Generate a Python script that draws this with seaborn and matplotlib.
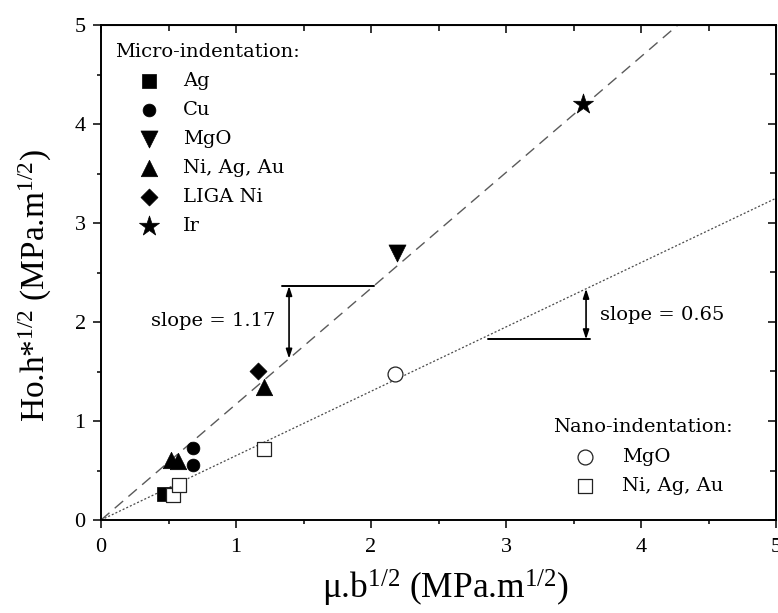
import matplotlib
matplotlib.use("Agg")
import matplotlib.pyplot as plt
import numpy as np
import pandas as pd
import seaborn as sns

# ---- data -------------------------------------------------------------
# micro-indentation (filled symbols)
ag_x, ag_y = [0.47], [0.26]
cu_x, cu_y = [0.68, 0.68], [0.73, 0.56]
mgo_x, mgo_y = [2.19], [2.70]
niagau_x, niagau_y = [0.52, 0.57, 1.21], [0.61, 0.60, 1.34]
liga_x, liga_y = [1.16], [1.51]
ir_x, ir_y = [3.57], [4.20]

# nano-indentation (open symbols)
nano_mgo_x, nano_mgo_y = [2.18], [1.475]
nano_ni_x, nano_ni_y = [0.535, 0.58, 1.21], [0.25, 0.355, 0.72]

# fitted slopes
slope_micro = 1.17
slope_nano = 0.65

x_ticks = [0, 1, 2, 3, 4, 5]
y_ticks = [0, 1, 2, 3, 4, 5]

# ---- style ------------------------------------------------------------
sns.set_style("ticks")
plt.rcParams["font.family"] = ["Liberation Serif", "DejaVu Serif"]
plt.rcParams["mathtext.fontset"] = "custom"
plt.rcParams["mathtext.rm"] = "Liberation Serif"
plt.rcParams["mathtext.it"] = "Liberation Serif:italic"
for key in ("text.color", "axes.labelcolor", "xtick.color", "ytick.color"):
    plt.rcParams[key] = "black"

note_font = "DejaVu Serif"
note_size = 14

fig = plt.figure(figsize=(7.78, 6.13), dpi=100)
ax = fig.add_axes([101 / 778, 1 - 520 / 613, 675 / 778, 495 / 613])

# ---- fit lines ----------------------------------------------------------
xline = np.array([0.0, 5.0])
fit_df = pd.DataFrame({"x": xline, "micro": slope_micro * xline, "nano": slope_nano * xline})
sns.lineplot(data=fit_df, x="x", y="micro", ax=ax, color="#5a5a5a", lw=1.0,
             zorder=1).lines[-1].set_dashes((8, 5))
sns.lineplot(data=fit_df, x="x", y="nano", ax=ax, color="#4a4a4a", lw=0.9,
             zorder=1).lines[-1].set_dashes((1.6, 1.6))

# ---- markers ------------------------------------------------------------
filled = dict(color="black", edgecolor="black", linewidth=0.5, zorder=3)
hollow = dict(color="white", edgecolor="#222222", linewidth=0.9, zorder=4)

sns.scatterplot(x=ag_x, y=ag_y, marker="s", s=110, label="Ag", ax=ax, **filled)
sns.scatterplot(x=cu_x, y=cu_y, marker="o", s=85, label="Cu", ax=ax, **filled)
sns.scatterplot(x=mgo_x, y=mgo_y, marker="v", s=150, label="MgO", ax=ax, **filled)
sns.scatterplot(x=niagau_x, y=niagau_y, marker="^", s=140, label="Ni, Ag, Au", ax=ax, **filled)
sns.scatterplot(x=liga_x, y=liga_y, marker="D", s=75, label="LIGA Ni", ax=ax, **filled)
sns.scatterplot(x=ir_x, y=ir_y, marker="*", s=230, label="Ir", ax=ax, **filled)
sns.scatterplot(x=nano_mgo_x, y=nano_mgo_y, marker="o", s=115, label="MgO ", ax=ax, **hollow)
sns.scatterplot(x=nano_ni_x, y=nano_ni_y, marker="s", s=100, label="Ni, Ag, Au ", ax=ax, **hollow)

# ---- slope annotations ------------------------------------------------------
arrow_style = dict(arrowstyle="<|-|>,head_length=0.55,head_width=0.18",
                   color="black", lw=1.2, shrinkA=0, shrinkB=0)

bar1_x = (1.34, 2.02)
arrow1_x = 1.393
bar1_y = slope_micro * bar1_x[1]
ax.plot(bar1_x, [bar1_y, bar1_y], color="black", lw=1.4, zorder=2)
ax.annotate("", xy=(arrow1_x, slope_micro * arrow1_x), xytext=(arrow1_x, bar1_y),
            arrowprops=arrow_style)
ax.text(1.29, 2.01, f"slope = {slope_micro:.2f}", ha="right", va="center",
        fontsize=note_size, family=note_font)

bar2_x = (2.87, 3.62)
arrow2_x = 3.593
bar2_y = 1.825
ax.plot(bar2_x, [bar2_y, bar2_y], color="black", lw=1.4, zorder=2)
ax.annotate("", xy=(arrow2_x, slope_nano * arrow2_x), xytext=(arrow2_x, bar2_y),
            arrowprops=arrow_style)
ax.text(3.70, 2.07, f"slope = {slope_nano:.2f}", ha="left", va="center",
        fontsize=note_size, family=note_font)

# ---- axes ---------------------------------------------------------------
ax.set_xlim(0, 5)
ax.set_ylim(0, 5)
ax.set_xticks(x_ticks)
ax.set_yticks(y_ticks)
ax.set_xticks(np.arange(0.5, 5, 1.0), minor=True)
ax.set_yticks(np.arange(0.5, 5, 1.0), minor=True)
ax.tick_params(which="major", direction="out", length=6, width=1.1, labelsize=16, color="black")
ax.tick_params(which="minor", direction="out", length=3, width=1.1, color="black")
ax.tick_params(axis="x", which="major", pad=7)
ax.tick_params(axis="y", which="major", pad=5)
for sp in ax.spines.values():
    sp.set_visible(True)
    sp.set_linewidth(1.4)
    sp.set_color("black")

top = ax.secondary_xaxis("top")
top.set_xticks(x_ticks)
top.set_xticks(np.arange(0.5, 5, 1.0), minor=True)
top.tick_params(which="major", direction="in", length=6, width=1.1, labeltop=False)
top.tick_params(which="minor", direction="in", length=4, width=1.1)
right = ax.secondary_yaxis("right")
right.set_yticks(y_ticks)
right.set_yticks(np.arange(0.5, 5, 1.0), minor=True)
right.tick_params(which="major", direction="in", length=6, width=1.1, labelright=False)
right.tick_params(which="minor", direction="in", length=4, width=1.1)

ax.set_xlabel(r"μ.b$^{1/2}$ (MPa.m$^{1/2}$)", fontsize=25.5)
ax.set_ylabel(r"Ho.h*$^{1/2}$ (MPa.m$^{1/2}$)", fontsize=24)
ax.xaxis.set_label_coords(0.51, -(568 - 520) / 495)
ax.yaxis.set_label_coords(-(101 - 54) / 675, (520 - 286) / 495)

# ---- legends --------------------------------------------------------------
handles, labels = ax.get_legend_handles_labels()
micro_h, micro_l = handles[:6], labels[:6]
nano_h, nano_l = handles[6:], [l.strip() for l in labels[6:]]

legend_font = dict(family=note_font, size=note_size)
leg1 = ax.legend(micro_h, micro_l, title="Micro-indentation:", loc="upper left",
                 bbox_to_anchor=(115 / 778, 1 - 43 / 613), bbox_transform=fig.transFigure,
                 frameon=False, prop=legend_font, title_fontproperties=legend_font,
                 alignment="left", handlelength=3.5, handletextpad=0.0, labelspacing=0.57,
                 borderpad=0, borderaxespad=0, scatterpoints=1)
ax.add_artist(leg1)
ax.legend(nano_h, nano_l, title="Nano-indentation:", loc="upper left",
          bbox_to_anchor=(553 / 778, 1 - 418 / 613), bbox_transform=fig.transFigure,
          frameon=False, prop=legend_font, title_fontproperties=legend_font,
          alignment="left", handlelength=3.3, handletextpad=0.25, labelspacing=0.6,
          borderpad=0, borderaxespad=0, scatterpoints=1)

fig.savefig("out.png", dpi=100)
